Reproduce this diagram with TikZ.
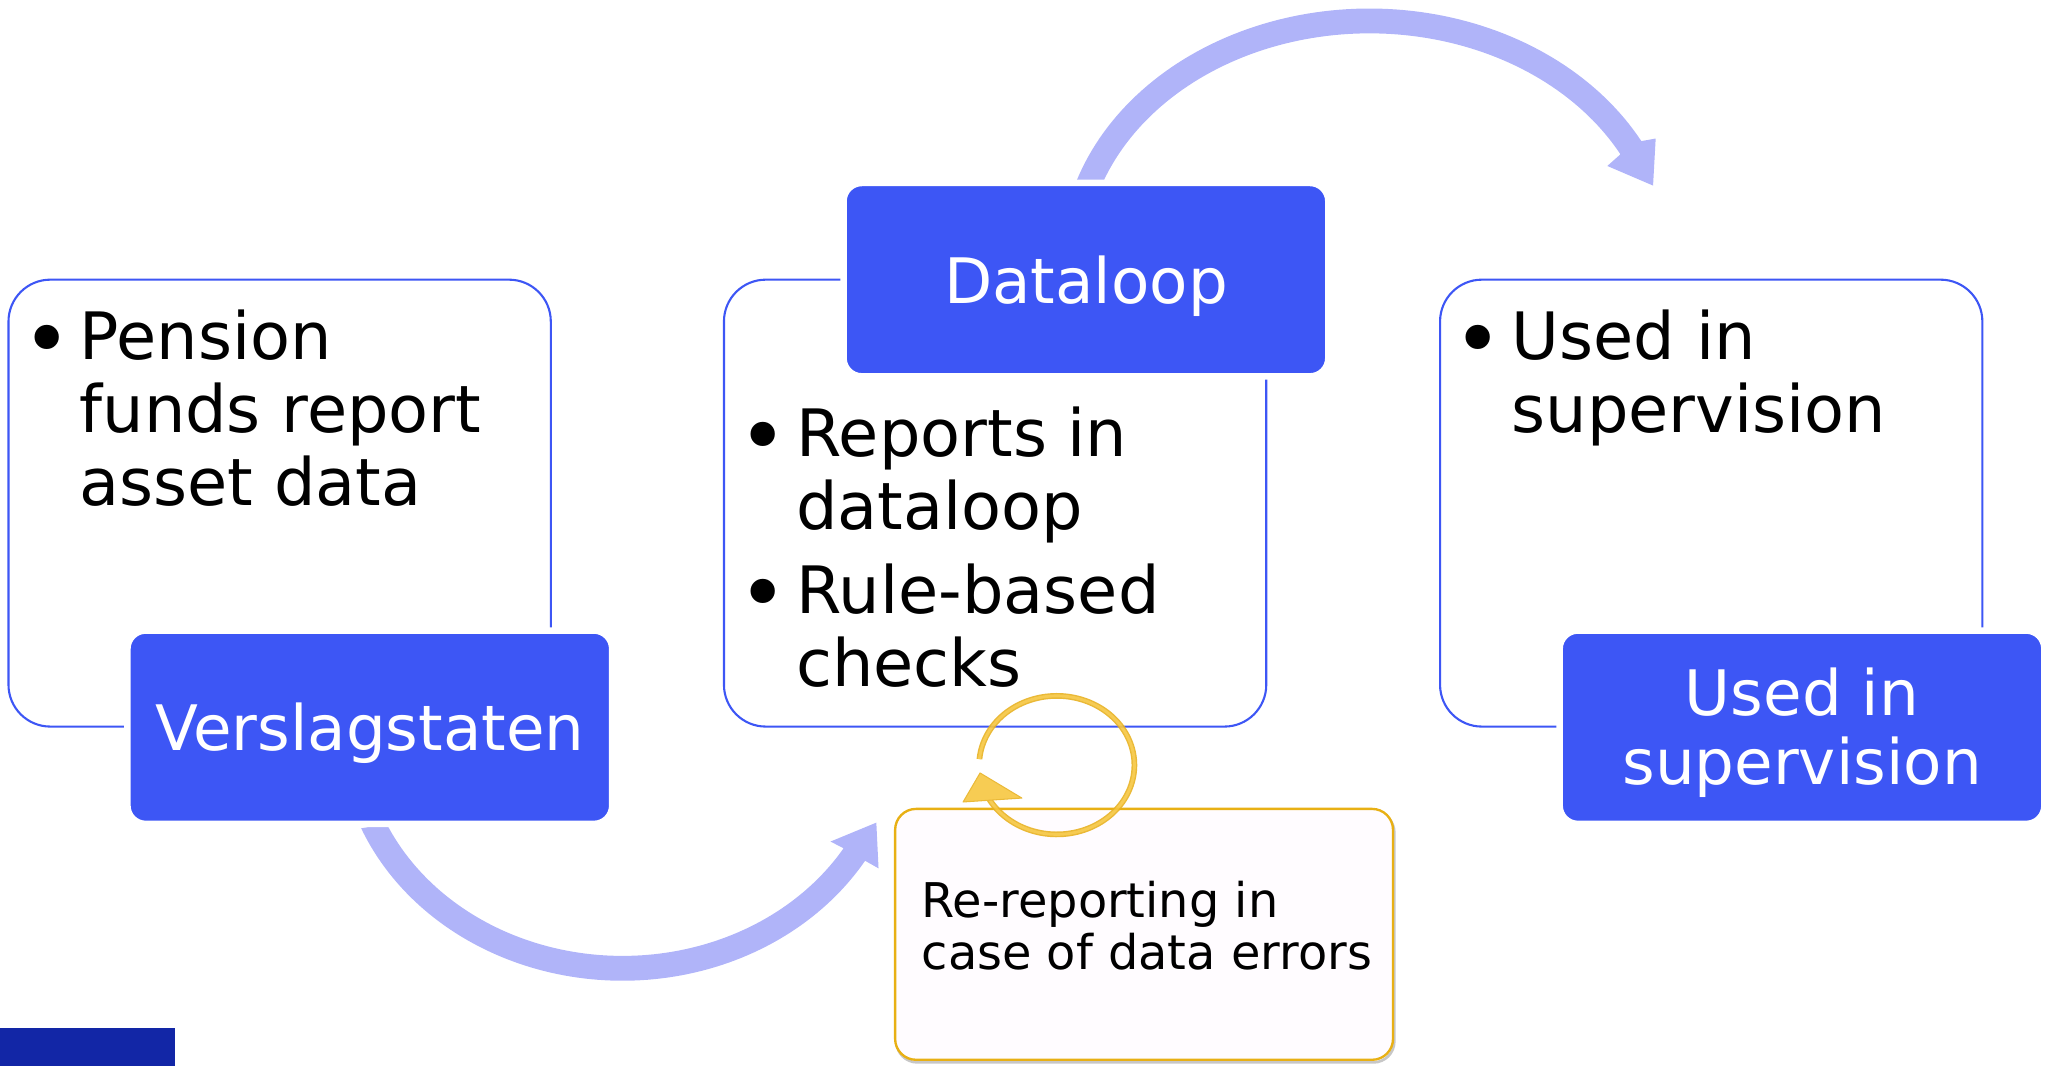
\documentclass[tikz,border=0pt]{standalone}
\usepackage{fontspec}
\setmainfont{DejaVu Sans}
\definecolor{tagblue}{RGB}{61,86,245}
\definecolor{lav}{RGB}{176,180,249}
\definecolor{navy}{RGB}{18,38,166}
\definecolor{gold}{RGB}{232,176,20}
\definecolor{ringedge}{RGB}{232,178,34}
\definecolor{ringgold}{RGB}{246,198,64}
\definecolor{paper}{RGB}{255,252,255}
\newcommand{\bodyfont}{\fontsize{25}{28}\selectfont}
\newcommand{\bulletfont}{\fontsize{32}{32}\selectfont}
\newcommand{\tagfont}{\fontsize{24}{26.5}\selectfont}
\newcommand{\notefont}{\fontsize{18.3}{20}\selectfont}
\begin{document}
\begin{tikzpicture}[x=0.5pt,y=-0.5pt,
  card/.style={draw=tagblue, line width=0.8pt, rounded corners=16pt, fill=white,
    minimum width=207.5pt, minimum height=171pt, inner sep=0pt},
  tagbox/.style={fill=tagblue, draw=white, line width=2.5pt, rounded corners=7pt,
    minimum width=185.5pt, minimum height=74pt, inner sep=0pt},
  tagtext/.style={text=white, font=\tagfont, inner sep=0pt},
  bodytext/.style={text=black, font=\bodyfont, inner sep=0pt, anchor=base west},
  bul/.style={text=black, font=\bulletfont, inner sep=0pt, anchor=base},
  note/.style={draw=gold, line width=0.9pt, rounded corners=8pt, fill=paper,
    minimum width=190.5pt, minimum height=96pt, inner sep=0pt},
  bigarrow/.style={fill=lav}
]
\useasboundingbox (0,0) rectangle (1568,816);

% corner accent
\fill[navy] (0,787) rectangle (134,816);

% outlined cards
\node[card] (c1) at (214,385) {};
\node[card] (c2) at (761.5,385) {};
\node[card] (c3) at (1309.5,385) {};

% curved arrow over the top
\fill[bigarrow]
  plot[domain=198.7:331.6, samples=90] ({1048+236.5*cos(\x)},{200+193.5*sin(\x)})
  -- (1267,106) -- (1265,142) -- (1230,127)
  -- plot[domain=332:200.8, samples=90] ({1048+217.5*cos(\x)},{200+174.5*sin(\x)})
  -- cycle;

% curved arrow underneath
\fill[bigarrow]
  plot[domain=157.2:31.2, samples=90] ({476.4+217*cos(\x)},{560+190.5*sin(\x)})
  -- (672.3,664.5) -- (670.6,629.5) -- (635.5,644)
  -- plot[domain=31.3:155.7, samples=90] ({476.4+198*cos(\x)},{560+171.5*sin(\x)})
  -- cycle;

% filled tags
\node[tagbox] (t1) at (283,556.5) {};
\node[tagbox] (t2) at (831,214) {};
\node[tagbox] (t3) at (1379,556.5) {};
\node[tagtext, anchor=base] (l1) at (283,574) {Verslagstaten};
\node[tagtext, anchor=base] (l2) at (831,232) {Dataloop};
\node[tagtext, anchor=base] (l3) at (1379,547.5)
  {\begin{tabular}[t]{@{}c@{}}Used in\\supervision\end{tabular}};

% card contents
\node[bul] (b1) at (36,282) {•};
\node[bodytext] (x1) at (60.5,275)
  {\begin{tabular}[t]{@{}l@{}}Pension\\funds report\\asset data\end{tabular}};
\node[bul] (b2) at (584,356) {•};
\node[bodytext] (x2) at (609,349)
  {\begin{tabular}[t]{@{}l@{}}Reports in\\dataloop\end{tabular}};
\node[bul] (b3) at (584,476.5) {•};
\node[bodytext] (x3) at (609,469.5)
  {\begin{tabular}[t]{@{}l@{}}Rule-based\\checks\end{tabular}};
\node[bul] (b4) at (1131,282) {•};
\node[bodytext] (x4) at (1156.5,275)
  {\begin{tabular}[t]{@{}l@{}}Used in\\supervision\end{tabular}};

% re-reporting note with soft shadow
\draw[black!22, line width=1pt, rounded corners=8pt] (686,621) rectangle (1067,813);
\node[note] (rr) at (875.5,715) {};
\node[text=black, font=\notefont, inner sep=0pt, anchor=base west] (rt) at (705,702)
  {\begin{tabular}[t]{@{}l@{}}Re-reporting in\\case of data errors\end{tabular}};

% circular feedback arrow, slightly see-through
\begin{scope}[transparency group, opacity=0.9]
  \draw[ringedge, line width=2.2pt]
    plot[domain=185:511, samples=120] ({808.7+59.4*cos(\x)},{585.5+53*sin(\x)});
  \draw[ringgold, line width=1.1pt]
    plot[domain=185:511, samples=120] ({808.7+59.4*cos(\x)},{585.5+53*sin(\x)});
  \fill[ringgold, draw=ringedge, line width=0.4pt, line join=round]
    (750,591.5) -- (737,613.7) -- (782,610.7) -- cycle;
\end{scope}
\end{tikzpicture}
\end{document}
